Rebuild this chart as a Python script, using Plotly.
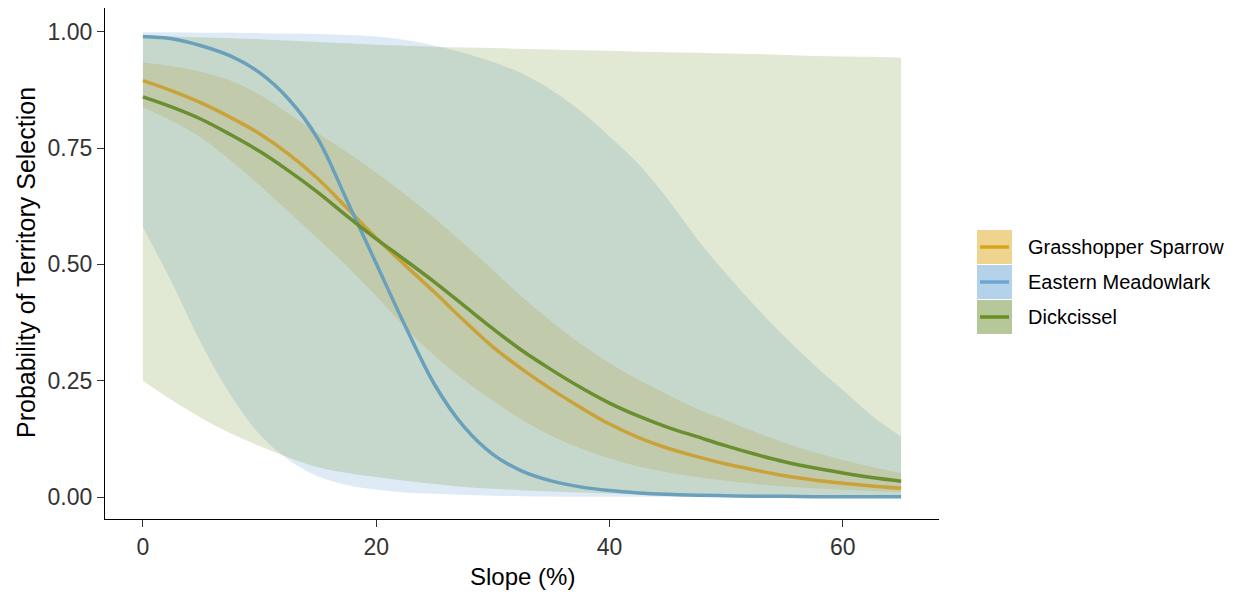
import plotly.graph_objects as go

# ---- data ----
slope = [0, 2.5, 5, 7.5, 10, 12.5, 15, 17.5, 20, 22.5, 25, 27.5, 30, 32.5, 35,
         37.5, 40, 42.5, 45, 47.5, 50, 52.5, 55, 57.5, 60, 62.5, 65]

species = ["Grasshopper Sparrow", "Eastern Meadowlark", "Dickcissel"]

gs_fit = [0.895, 0.873, 0.847, 0.816, 0.781, 0.737, 0.684, 0.621, 0.557, 0.498, 0.440, 0.380, 0.323, 0.275,
          0.232, 0.193, 0.157, 0.128, 0.105, 0.087, 0.071, 0.058, 0.046, 0.037, 0.030, 0.024, 0.019]
gs_upper = [0.934, 0.926, 0.914, 0.895, 0.865, 0.824, 0.782, 0.741, 0.697, 0.650, 0.600, 0.545, 0.488, 0.430,
            0.378, 0.330, 0.288, 0.252, 0.220, 0.190, 0.165, 0.140, 0.117, 0.097, 0.080, 0.065, 0.052]
gs_lower = [0.837, 0.808, 0.772, 0.724, 0.670, 0.613, 0.555, 0.496, 0.432, 0.364, 0.304, 0.252, 0.207, 0.166,
            0.132, 0.105, 0.083, 0.066, 0.053, 0.043, 0.035, 0.028, 0.023, 0.019, 0.016, 0.013, 0.011]

em_fit = [0.990, 0.985, 0.970, 0.948, 0.912, 0.855, 0.770, 0.637, 0.502, 0.367, 0.242, 0.152, 0.092, 0.056,
          0.035, 0.022, 0.014, 0.009, 0.006, 0.004, 0.003, 0.002, 0.002, 0.001, 0.001, 0.001, 0.001]
em_upper = [0.999, 0.999, 0.998, 0.998, 0.997, 0.996, 0.995, 0.993, 0.990, 0.982, 0.970, 0.955, 0.935, 0.910,
            0.875, 0.830, 0.775, 0.715, 0.640, 0.555, 0.480, 0.410, 0.345, 0.285, 0.230, 0.175, 0.130]
em_lower = [0.580, 0.460, 0.330, 0.220, 0.135, 0.080, 0.045, 0.026, 0.016, 0.010, 0.007, 0.005, 0.003, 0.002,
            0.0015, 0.001, 0.001, 0.001, 0.0005, 0.0005, 0.0005, 0.0005, 0.0005, 0.0005, 0.0005, 0.0005, 0.0005]

dk_fit = [0.860, 0.838, 0.812, 0.779, 0.743, 0.701, 0.655, 0.604, 0.555, 0.509, 0.462, 0.412, 0.362, 0.315,
          0.274, 0.236, 0.202, 0.174, 0.150, 0.130, 0.110, 0.092, 0.076, 0.063, 0.052, 0.042, 0.034]
dk_upper = [0.990, 0.990, 0.988, 0.986, 0.984, 0.981, 0.978, 0.975, 0.972, 0.970, 0.968, 0.966, 0.965, 0.963,
            0.962, 0.960, 0.959, 0.957, 0.956, 0.955, 0.953, 0.952, 0.950, 0.948, 0.947, 0.946, 0.944]
dk_lower = [0.250, 0.208, 0.170, 0.137, 0.110, 0.085, 0.064, 0.052, 0.043, 0.035, 0.028, 0.022, 0.018, 0.015,
            0.012, 0.010, 0.008, 0.006, 0.005, 0.004, 0.003, 0.003, 0.002, 0.002, 0.001, 0.001, 0.001]

x_ticks = [0, 20, 40, 60]
y_ticks = [0, 0.25, 0.5, 0.75, 1.0]

x_title = "Slope (%)"
y_title = "Probability of Territory Selection"

# ---- styles ----
FONT = "Arial, Liberation Sans, sans-serif"
ribbon_fill = {"Grasshopper Sparrow": "rgba(218,165,32,0.22)",
               "Eastern Meadowlark": "rgba(107,166,214,0.22)",
               "Dickcissel": "rgba(107,142,35,0.20)"}
line_col = {"Grasshopper Sparrow": "#C9A23A",
            "Eastern Meadowlark": "#6AA0BC",
            "Dickcissel": "#6A8E30"}
legend_fill = {"Grasshopper Sparrow": "#EFD48F",
               "Eastern Meadowlark": "#B4D3EA",
               "Dickcissel": "#B6C79A"}
legend_line = {"Grasshopper Sparrow": "#D9A521",
               "Eastern Meadowlark": "#6BA6D2",
               "Dickcissel": "#6B8E23"}

data = {
    "Grasshopper Sparrow": (gs_fit, gs_lower, gs_upper),
    "Eastern Meadowlark": (em_fit, em_lower, em_upper),
    "Dickcissel": (dk_fit, dk_lower, dk_upper),
}

fig = go.Figure()

# ribbons
for sp in species:
    fit, lo, up = data[sp]
    fig.add_trace(go.Scatter(x=slope, y=lo, mode="lines", line=dict(width=0, shape="spline"),
                             showlegend=False, hoverinfo="skip"))
    fig.add_trace(go.Scatter(x=slope, y=up, mode="lines", line=dict(width=0, shape="spline"),
                             fill="tonexty", fillcolor=ribbon_fill[sp],
                             showlegend=False, hoverinfo="skip"))

# fitted lines
for sp in species:
    fit, lo, up = data[sp]
    fig.add_trace(go.Scatter(x=slope, y=fit, mode="lines", name=sp,
                             line=dict(color=line_col[sp], width=3.5, shape="spline"),
                             showlegend=False))

# page has an 8px body margin: figure is placed at (8, 8) in the window
OFF = 8
W, H = 1238 - OFF, 596 - OFF
ML, MR, MT, MB = 105 - OFF, 299, 0, 77
PW, PH = W - ML - MR, H - MT - MB


def px_x(px):
    # px: window x coordinate
    return (px - OFF - ML) / PW


def px_y(py):
    # py: window y coordinate
    return (H - MB - (py - OFF)) / PH


# custom ggplot-like legend
shapes = []
annotations = []
box_w, box_h = 35, 34
x0_px = 977
y_tops = [230, 265, 300]
for sp, yt in zip(species, y_tops):
    shapes.append(dict(type="rect", xref="paper", yref="paper",
                       x0=px_x(x0_px), x1=px_x(x0_px + box_w),
                       y0=px_y(yt + box_h), y1=px_y(yt),
                       fillcolor=legend_fill[sp], line=dict(width=0), layer="above"))
    ymid = px_y(yt + box_h / 2)
    shapes.append(dict(type="line", xref="paper", yref="paper",
                       x0=px_x(x0_px + 3), x1=px_x(x0_px + box_w - 3),
                       y0=ymid, y1=ymid, line=dict(color=legend_line[sp], width=3.5), layer="above"))
    annotations.append(dict(xref="paper", yref="paper", x=px_x(1026), y=ymid,
                            text=sp, showarrow=False, xanchor="left", yanchor="middle",
                            font=dict(size=20, color="#000000", family=FONT)))

# axis titles
annotations.append(dict(xref="paper", yref="paper", x=0.5, y=px_y(577), text=x_title,
                        showarrow=False, xanchor="center", yanchor="middle",
                        font=dict(size=24, color="#000000", family=FONT)))
annotations.append(dict(xref="paper", yref="paper", x=px_x(26), y=px_y(263), text=y_title, textangle=-90,
                        showarrow=False, xanchor="center", yanchor="middle",
                        font=dict(size=25, color="#000000", family=FONT)))

fig.update_layout(
    width=W, height=H,
    margin=dict(l=ML, r=MR, t=MT, b=MB),
    plot_bgcolor="white", paper_bgcolor="white",
    font=dict(family=FONT),
    shapes=shapes, annotations=annotations,
    showlegend=False,
)
fig.update_xaxes(range=[-3.25, 68.25], tickvals=x_ticks, ticktext=[str(v) for v in x_ticks],
                 automargin=False,
                 showgrid=False, zeroline=False, showline=True, linecolor="#000000", linewidth=1.3,
                 ticks="outside", ticklen=7, tickcolor="#333333", tickwidth=1.2,
                 tickfont=dict(size=23, color="#333333", family=FONT))
fig.update_yaxes(range=[-0.047, 1.051], tickvals=y_ticks, ticktext=[f"{v:.2f}" for v in y_ticks],
                 automargin=False,
                 showgrid=False, zeroline=False, showline=True, linecolor="#000000", linewidth=1.3,
                 ticks="outside", ticklen=7, tickcolor="#333333", tickwidth=1.2,
                 tickfont=dict(size=23, color="#333333", family=FONT))

fig.write_html("out.html")
